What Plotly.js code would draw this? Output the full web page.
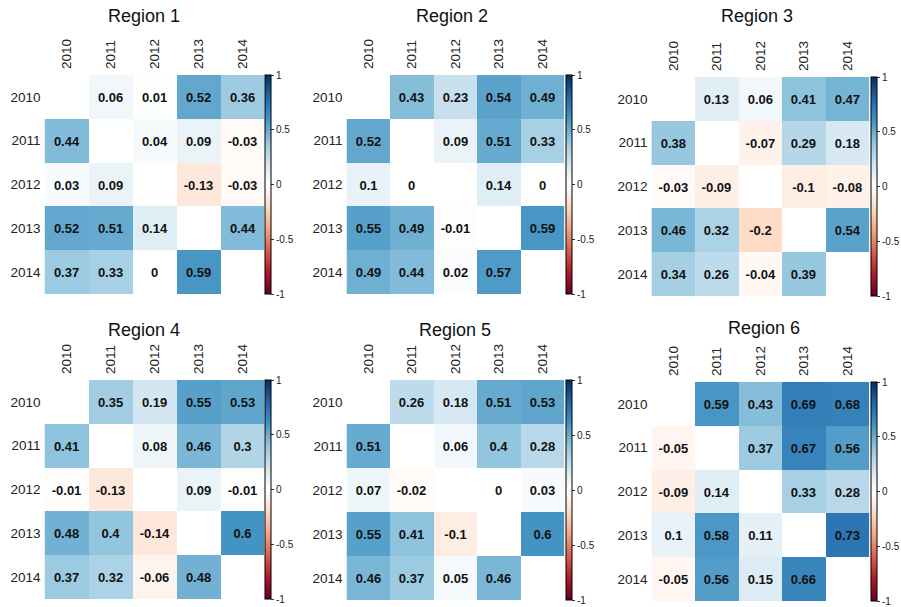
<!DOCTYPE html>
<html>
<head>
<meta charset="utf-8">
<script src="https://cdn.plot.ly/plotly-3.0.1.min.js"></script>
<style>html,body{margin:0;padding:0;background:#fff;}#chart{width:901px;height:607px;}</style>
</head>
<body>
<div id="chart"></div>
<script>
const years = ['2010', '2011', '2012', '2013', '2014'];
const regionNames = ['Region 1', 'Region 2', 'Region 3', 'Region 4', 'Region 5', 'Region 6'];

const region1 = [
  [null, 0.06, 0.01, 0.52, 0.36],
  [0.44, null, 0.04, 0.09, -0.03],
  [0.03, 0.09, null, -0.13, -0.03],
  [0.52, 0.51, 0.14, null, 0.44],
  [0.37, 0.33, 0, 0.59, null]
];
const region2 = [
  [null, 0.43, 0.23, 0.54, 0.49],
  [0.52, null, 0.09, 0.51, 0.33],
  [0.1, 0, null, 0.14, 0],
  [0.55, 0.49, -0.01, null, 0.59],
  [0.49, 0.44, 0.02, 0.57, null]
];
const region3 = [
  [null, 0.13, 0.06, 0.41, 0.47],
  [0.38, null, -0.07, 0.29, 0.18],
  [-0.03, -0.09, null, -0.1, -0.08],
  [0.46, 0.32, -0.2, null, 0.54],
  [0.34, 0.26, -0.04, 0.39, null]
];
const region4 = [
  [null, 0.35, 0.19, 0.55, 0.53],
  [0.41, null, 0.08, 0.46, 0.3],
  [-0.01, -0.13, null, 0.09, -0.01],
  [0.48, 0.4, -0.14, null, 0.6],
  [0.37, 0.32, -0.06, 0.48, null]
];
const region5 = [
  [null, 0.26, 0.18, 0.51, 0.53],
  [0.51, null, 0.06, 0.4, 0.28],
  [0.07, -0.02, null, 0, 0.03],
  [0.55, 0.41, -0.1, null, 0.6],
  [0.46, 0.37, 0.05, 0.46, null]
];
const region6 = [
  [null, 0.59, 0.43, 0.69, 0.68],
  [-0.05, null, 0.37, 0.67, 0.56],
  [-0.09, 0.14, null, 0.33, 0.28],
  [0.1, 0.58, 0.11, null, 0.73],
  [-0.05, 0.56, 0.15, 0.66, null]
];
const colorbarTickVals = [-1, -0.5, 0, 0.5, 1];
const colorbarTickText = ['-1', '-0.5', '0', '0.5', '1'];

const regions = [region1, region2, region3, region4, region5, region6];

const W = 901, H = 607;
// panel placement in pixels: [x0, x1, y0, y1, cbX, titleX, titleY]
const panels = [
  [45, 267, 75, 294, 268, 145, 16],
  [350, 570, 75, 294, 572, 457, 16],
  [658, 878, 77, 296, 880, 765, 16],
  [45, 267, 380, 599, 268, 145, 330],
  [350, 570, 380, 600, 572, 460, 330],
  [658, 878, 382, 601, 880, 772, 328]
];

const colorscale = [
  [0.0, '#67001F'], [0.1, '#B2182B'], [0.2, '#D6604D'], [0.3, '#F4A582'],
  [0.4, '#FDDBC7'], [0.5, '#FFFFFF'], [0.6, '#D1E5F0'], [0.7, '#92C5DE'],
  [0.8, '#4393C3'], [0.9, '#2166AC'], [1.0, '#053061']
];

const FONT = 'Liberation Sans, Arial, Helvetica, sans-serif';
const data = [];
const layout = {
  width: W, height: H,
  margin: {l: 0, r: 0, t: 0, b: 0},
  paper_bgcolor: '#fff', plot_bgcolor: '#fff',
  showlegend: false,
  font: {family: FONT, color: '#222'},
  annotations: []
};

regions.forEach((z, i) => {
  const p = panels[i];
  const n = i === 0 ? '' : String(i + 1);
  const text = z.map(r => r.map(v => v === null ? '' : String(v)));
  data.push({
    type: 'heatmap',
    x: years, y: years, z: z, text: text,
    texttemplate: '<b>%{text}</b>',
    textfont: {family: FONT, size: 13, color: '#111'},
    colorscale: colorscale, zmin: -1, zmax: 1,
    xaxis: 'x' + n, yaxis: 'y' + n,
    hoverongaps: false,
    showscale: true,
    colorbar: {
      x: p[4] / W, xanchor: 'left', xpad: 0, ypad: 0,
      y: 1 - (p[2] + p[3]) / 2 / H, yanchor: 'middle',
      len: (p[3] - p[2]) / H, lenmode: 'fraction',
      thickness: 6, thicknessmode: 'pixels',
      outlinewidth: 1, outlinecolor: '#000',
      tickvals: colorbarTickVals, ticktext: colorbarTickText,
      ticks: 'outside', ticklen: 3, tickcolor: '#333',
      tickfont: {family: FONT, size: 10, color: '#222'}
    }
  });
  layout['xaxis' + n] = {
    domain: [p[0] / W, p[1] / W], anchor: 'y' + n,
    side: 'top', type: 'category', tickangle: -90,
    showgrid: false, zeroline: false, showline: false, ticks: '',
    ticklabelstandoff: 5,
    tickfont: {family: FONT, size: 13.5, color: '#222'},
    fixedrange: true
  };
  layout['yaxis' + n] = {
    domain: [1 - p[3] / H, 1 - p[2] / H], anchor: 'x' + n,
    type: 'category', autorange: 'reversed',
    showgrid: false, zeroline: false, showline: false, ticks: '',
    ticklabelstandoff: 3,
    tickfont: {family: FONT, size: 13.5, color: '#222'},
    fixedrange: true
  };
  layout.annotations.push({
    text: regionNames[i], showarrow: false,
    xref: 'paper', yref: 'paper',
    x: p[5] / W, y: 1 - p[6] / H, xanchor: 'center', yanchor: 'middle',
    font: {family: FONT, size: 18, color: '#111'}
  });
});

Plotly.newPlot('chart', data, layout, {staticPlot: true, displayModeBar: false});
</script>
</body>
</html>
